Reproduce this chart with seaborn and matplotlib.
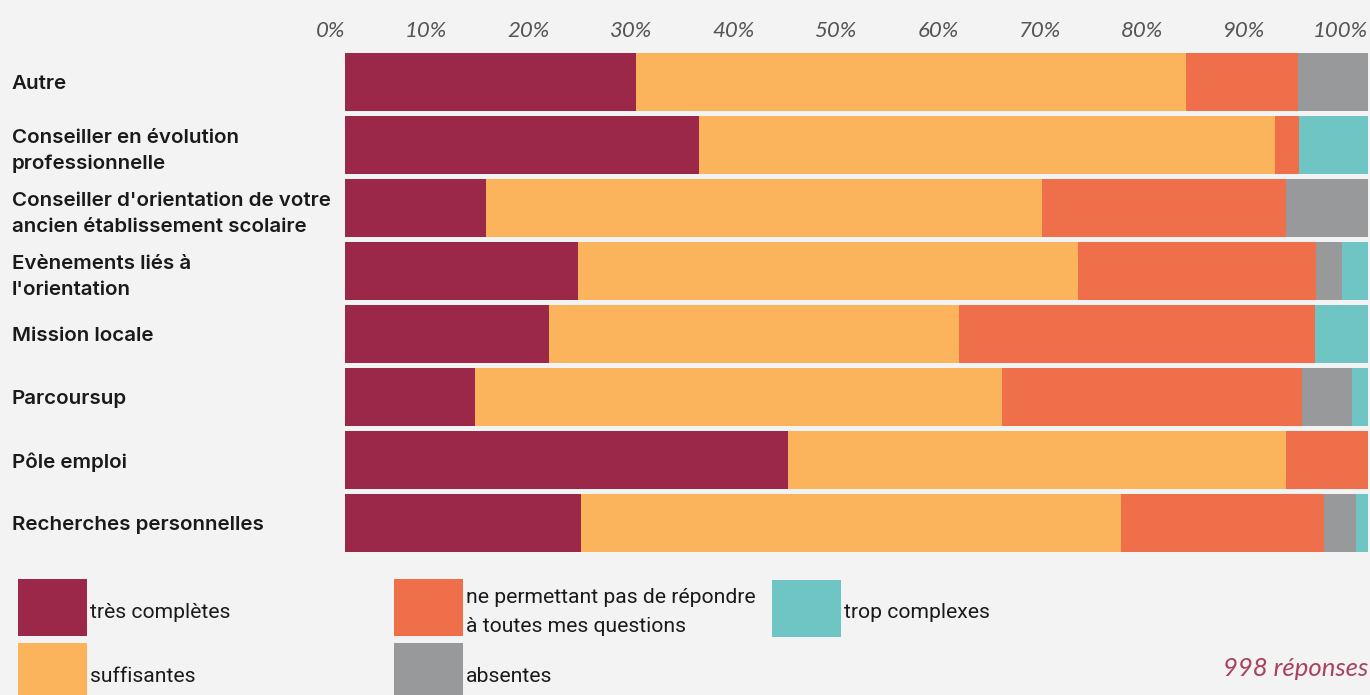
import matplotlib
matplotlib.use("Agg")
import matplotlib.pyplot as plt
import seaborn as sns
import numpy as np
import pandas as pd
from matplotlib.patches import Rectangle

categories = [
    "Autre",
    "Conseiller en évolution\nprofessionnelle",
    "Conseiller d'orientation de votre\nancien établissement scolaire",
    "Evènements liés à\nl'orientation",
    "Mission locale",
    "Parcoursup",
    "Pôle emploi",
    "Recherches personnelles",
]
series_names = [
    "très complètes",
    "suffisantes",
    "ne permettant pas de répondre\nà toutes mes questions",
    "absentes",
    "trop complexes",
]
tres_completes = [28.4, 34.6, 13.8, 22.8, 19.9, 12.7, 43.3, 23.1]
suffisantes    = [53.8, 56.3, 54.3, 48.9, 40.1, 51.5, 48.7, 52.8]
ne_permettant  = [11.0,  2.4, 23.9, 23.2, 34.8, 29.3,  8.0, 19.8]
absentes       = [ 6.8,  0.0,  8.0,  2.6,  0.0,  4.9,  0.0,  3.1]
trop_complexes = [ 0.0,  6.7,  0.0,  2.5,  5.2,  1.6,  0.0,  1.2]
colors = ["#9B2749", "#FBB45B", "#EF6F4B", "#98999B", "#6FC5C3"]
tick_values = [0, 10, 20, 30, 40, 50, 60, 70, 80, 90, 100]
tick_labels = [f"{v}%" for v in tick_values]
note = "998 réponses"

BG = "#F3F3F3"
sns.set_theme(style="white")
plt.rcParams["font.family"] = ["Lato", "DejaVu Sans"]

W, H = 1370, 695
fig = plt.figure(figsize=(W / 100, H / 100), dpi=100, facecolor=BG)
ax = fig.add_axes([345 / W, (H - 554.5) / H, (1368 - 345) / W, 504 / H])
ax.set_facecolor(BG)

values = np.array([tres_completes, suffisantes, ne_permettant, absentes, trop_complexes])
cum = np.cumsum(values, axis=0)

for i in range(len(series_names) - 1, -1, -1):
    df = pd.DataFrame({"cat": categories, "val": cum[i]})
    sns.barplot(data=df, x="val", y="cat", orient="h", color=colors[i],
                saturation=1, width=0.92, errorbar=None, ax=ax, linewidth=0)

ax.set_xlim(0, 100)
ax.set_ylim(7.5, -0.5)
ax.set_xlabel("")
ax.set_ylabel("")
for s in ax.spines.values():
    s.set_visible(False)

ax.xaxis.tick_top()
ax.set_xticks(tick_values)
ax.set_xticklabels(tick_labels, fontsize=16, fontstyle="italic", fontweight="normal",
                   color="#555555", ha="right")
ax.tick_params(axis="x", length=0, pad=7, labeltop=True, labelbottom=False)

ax.tick_params(axis="y", length=0, pad=240)
for lab in ax.get_yticklabels():
    lab.set_horizontalalignment("left")
    lab.set_fontsize(14.8)
    lab.set_fontweight("semibold")
    lab.set_color("#1a1a1a")
    lab.set_linespacing(1.55)
    lab.set_fontfamily(["Inter", "DejaVu Sans"])

# legend (custom layout)
def fx(px):
    return px / W

def fy(py):
    return 1 - py / H

legend_pos = [(18, 579), (18, 643), (394, 579), (394, 643), (772, 580)]
for (x0, y0), name, c in zip(legend_pos, series_names, colors):
    fig.add_artist(Rectangle((fx(x0), fy(y0 + 57)), 69 / W, 57 / H,
                             transform=fig.transFigure, facecolor=c, edgecolor="none"))
    fig.text(fx(x0 + 72), fy(y0 + 33), name, fontsize=15.2, color="#1a1a1a",
             ha="left", va="center", linespacing=1.72, family=["Roboto", "DejaVu Sans"])

fig.text(fx(1368), fy(668), note, fontsize=18.5, fontstyle="italic", fontweight="normal",
         color="#A8425F", ha="right", va="center")

fig.savefig("out.png", dpi=100, facecolor=BG)
